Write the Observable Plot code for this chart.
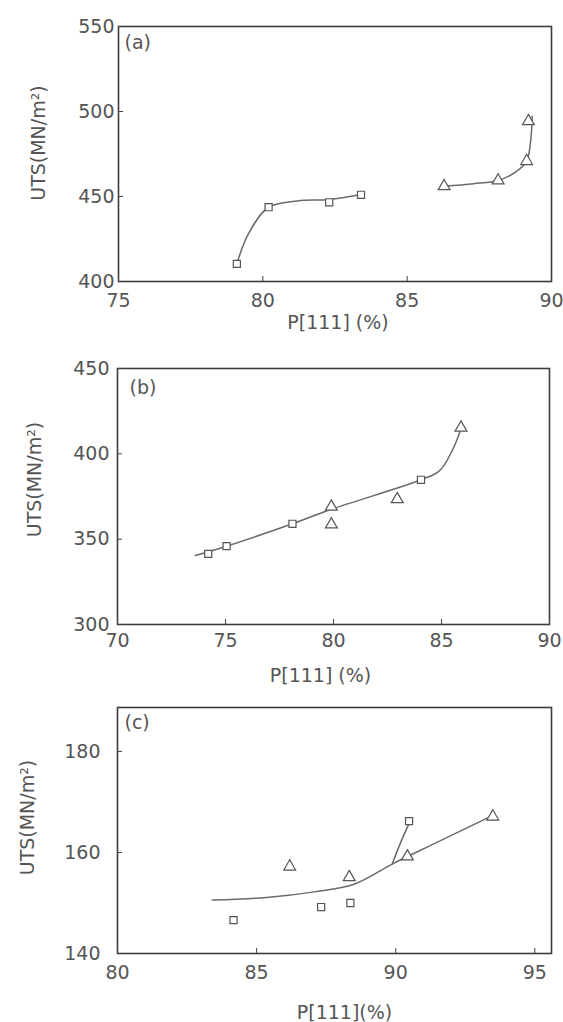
<!DOCTYPE html>
<html>
<head>
<meta charset="utf-8">
<script src="https://cdn.jsdelivr.net/npm/d3@7"></script>
<script src="https://cdn.jsdelivr.net/npm/@observablehq/plot@0.6"></script>
<style>
  html, body { margin: 0; padding: 0; background: #fff; }
  #wrap { width: 563px; }
  #wrap svg { display: block; }
  g[aria-label="ytitle"] text { letter-spacing: 1.4px; }
</style>
</head>
<body>
<div id="wrap"></div>
<script>
// ---------- shared text ----------
const yTitle = "UTS(MN/m\u00B2)";
const xTitles = ["P[111] (%)", "P[111] (%)", "P[111](%)"];
const panelLabels = ["(a)", "(b)", "(c)"];

// ---------- panel (a) ----------
const aXTicks = [75, 80, 85, 90];
const aYTicks = [400, 450, 500, 550];
const aSqX = [79.1, 80.2, 82.3, 83.4];
const aSqY = [410.4, 443.7, 446.6, 451.0];
const aTriX = [86.28, 88.15, 89.14, 89.2];
const aTriY = [456.0, 459.4, 470.8, 494.3];
const aCurve1X = [79.1, 79.5, 80.2, 81.2, 82.3, 83.4];
const aCurve1Y = [410.4, 428.0, 443.7, 447.4, 448.3, 451.2];
const aCurve2X = [86.28, 87.3, 88.15, 88.8, 89.14, 89.28, 89.33];
const aCurve2Y = [456.0, 457.5, 459.4, 464.9, 470.8, 482.9, 497.0];

// ---------- panel (b) ----------
const bXTicks = [70, 75, 80, 85, 90];
const bYTicks = [300, 350, 400, 450];
const bSqX = [74.2, 75.05, 78.1, 84.05];
const bSqY = [341.4, 345.9, 359.0, 384.8];
const bTriX = [79.9, 79.9, 82.95, 85.9];
const bTriY = [369.0, 358.6, 373.4, 415.3];
const bCurveX = [73.6, 75.05, 78.1, 79.9, 84.05, 84.9, 85.5, 85.9];
const bCurveY = [340.4, 345.9, 359.0, 367.5, 384.8, 390.0, 402.0, 414.6];

// ---------- panel (c) ----------
const cXTicks = [80, 85, 90, 95];
const cYTicks = [140, 160, 180];
const cSqX = [84.17, 87.32, 88.37, 90.48];
const cSqY = [146.6, 149.2, 150.0, 166.2];
const cTriX = [86.19, 88.33, 90.42, 93.49];
const cTriY = [157.2, 155.1, 159.2, 167.1];
const cCurve1X = [83.4, 85.36, 87.08, 88.5, 89.94, 91.37, 93.4];
const cCurve1Y = [150.6, 151.1, 152.2, 153.7, 157.9, 161.7, 167.1];
const cCurve2X = [89.88, 90.18, 90.48];
const cCurve2Y = [157.8, 162.0, 165.7];

const zip = (xs, ys) => xs.map((x, i) => ({x, y: ys[i]}));

const ink = "#555";
const lineInk = "#6a6a6a";

function panel(cfg) {
  const marks = [
    Plot.frame({stroke: "#3c3c3c", strokeWidth: 1.6}),
    Plot.axisX({ticks: cfg.xTicks, tickSize: -5, tickPadding: cfg.xPad, label: null, stroke: "#444", fill: ink}),
    Plot.axisY({ticks: cfg.yTicks, tickSize: -5, tickPadding: cfg.yPad, label: null, stroke: "#444", fill: ink})
  ];
  for (const c of cfg.curves) {
    marks.push(Plot.line(c, {x: "x", y: "y", curve: "catmull-rom", stroke: lineInk, strokeWidth: 1.5}));
  }
  marks.push(Plot.dot(cfg.squares, {x: "x", y: "y", symbol: "square", r: 4, fill: "white", stroke: ink, strokeWidth: 1.2}));
  marks.push(Plot.dot(cfg.triangles, {x: "x", y: "y", symbol: "triangle", r: 4.4, fill: "white", stroke: ink, strokeWidth: 1.2}));
  marks.push(Plot.text([cfg.panelLabel], {frameAnchor: "top-left", text: d => d, textAnchor: "start", lineAnchor: "middle", dx: cfg.plDx, dy: cfg.plDy, fill: ink, fontSize: 19}));
  marks.push(Plot.text([yTitle], {ariaLabel: "ytitle", frameAnchor: "left", text: d => d, rotate: -90, textAnchor: "middle", lineAnchor: "middle", dx: cfg.ytDx, dy: cfg.ytDy, fill: ink, fontSize: 19}));
  marks.push(Plot.text([cfg.xTitle], {frameAnchor: "bottom", text: d => d, textAnchor: "middle", lineAnchor: "middle", dx: cfg.xtDx, dy: cfg.xtDy, fill: ink, fontSize: 19}));
  return Plot.plot({
    width: 563,
    height: cfg.height,
    marginTop: cfg.mt,
    marginBottom: cfg.mb,
    marginLeft: cfg.ml,
    marginRight: cfg.mr,
    x: {domain: cfg.xDomain},
    y: {domain: cfg.yDomain},
    style: {fontFamily: "DejaVu Sans", fontSize: "19px", color: ink, background: "white", overflow: "visible"},
    marks
  });
}

const wrap = document.getElementById("wrap");

wrap.appendChild(panel({
  height: 330, mt: 26, mb: 49, ml: 118, mr: 12,
  xDomain: [75, 90], yDomain: [400, 550],
  xTicks: aXTicks, yTicks: aYTicks, xPad: 17, yPad: 9,
  curves: [zip(aCurve1X, aCurve1Y), zip(aCurve2X, aCurve2Y)],
  squares: zip(aSqX, aSqY), triangles: zip(aTriX, aTriY),
  panelLabel: panelLabels[0], plDx: 6, plDy: 16,
  ytDx: -80, ytDy: -11,
  xTitle: xTitles[0], xtDx: 3, xtDy: 41
}));

wrap.appendChild(panel({
  height: 360, mt: 38, mb: 66, ml: 117, mr: 14,
  xDomain: [70, 90], yDomain: [300, 450],
  xTicks: bXTicks, yTicks: bYTicks, xPad: 14, yPad: 13,
  curves: [zip(bCurveX, bCurveY)],
  squares: zip(bSqX, bSqY), triangles: zip(bTriX, bTriY),
  panelLabel: panelLabels[1], plDx: 12, plDy: 19,
  ytDx: -83, ytDy: -17,
  xTitle: xTitles[1], xtDx: -13, xtDy: 51
}));

wrap.appendChild(panel({
  height: 332, mt: 17, mb: 69, ml: 117, mr: 12,
  xDomain: [80, 95.6], yDomain: [140, 188.7],
  xTicks: cXTicks, yTicks: cYTicks, xPad: 17, yPad: 22,
  curves: [zip(cCurve1X, cCurve1Y), zip(cCurve2X, cCurve2Y)],
  squares: zip(cSqX, cSqY), triangles: zip(cTriX, cTriY),
  panelLabel: panelLabels[2], plDx: 7, plDy: 15,
  ytDx: -90, ytDy: -13,
  xTitle: xTitles[2], xtDx: 10, xtDy: 59
}));
</script>
</body>
</html>
